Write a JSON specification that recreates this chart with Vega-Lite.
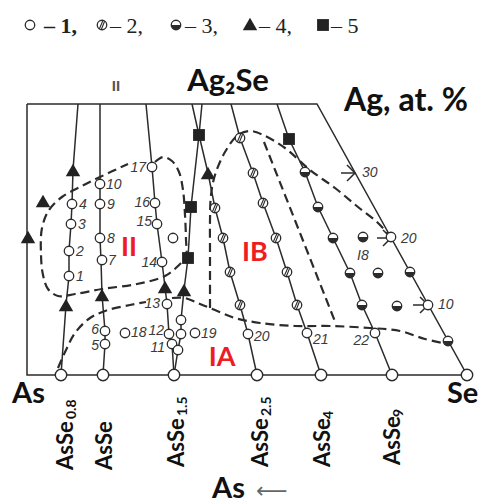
{
  "$schema": "https://vega.github.io/schema/vega-lite/v6.json",
  "width": 481,
  "height": 503,
  "padding": 0,
  "autosize": "none",
  "background": "white",
  "config": {"view": {"stroke": null}},
  "datasets": {
    "solid": [
      {"id":"border","i":0,"x":27,"y":104},{"id":"border","i":1,"x":317,"y":104},{"id":"border","i":2,"x":467,"y":375},{"id":"border","i":3,"x":27,"y":375},{"id":"border","i":4,"x":27,"y":104},
      {"id":"A","i":0,"x":61,"y":375},{"id":"A","i":1,"x":66,"y":305},{"id":"A","i":2,"x":69,"y":276},{"id":"A","i":3,"x":69,"y":251},{"id":"A","i":4,"x":71,"y":224},{"id":"A","i":5,"x":72,"y":204},{"id":"A","i":6,"x":73,"y":170},{"id":"A","i":7,"x":78,"y":104},
      {"id":"B","i":0,"x":103,"y":375},{"id":"B","i":1,"x":105,"y":344},{"id":"B","i":2,"x":105,"y":331},{"id":"B","i":3,"x":102,"y":295},{"id":"B","i":4,"x":101,"y":260},{"id":"B","i":5,"x":100,"y":238},{"id":"B","i":6,"x":100,"y":184},{"id":"B","i":7,"x":100,"y":104},
      {"id":"C","i":0,"x":174,"y":375},{"id":"C","i":1,"x":172,"y":344},{"id":"C","i":2,"x":169,"y":334},{"id":"C","i":3,"x":167,"y":304},{"id":"C","i":4,"x":165,"y":287},{"id":"C","i":5,"x":162,"y":262},{"id":"C","i":6,"x":157,"y":224},{"id":"C","i":7,"x":155,"y":203},{"id":"C","i":8,"x":152,"y":167},{"id":"C","i":9,"x":146,"y":104},
      {"id":"D","i":0,"x":174,"y":375},{"id":"D","i":1,"x":178,"y":350},{"id":"D","i":2,"x":181,"y":334},{"id":"D","i":3,"x":181,"y":320},{"id":"D","i":4,"x":184,"y":290},{"id":"D","i":5,"x":188,"y":258},{"id":"D","i":6,"x":191,"y":207},{"id":"D","i":7,"x":199,"y":135},{"id":"D","i":8,"x":202,"y":104},
      {"id":"E","i":0,"x":257,"y":375},{"id":"E","i":1,"x":248,"y":334},{"id":"E","i":2,"x":240,"y":305},{"id":"E","i":3,"x":230,"y":272},{"id":"E","i":4,"x":223,"y":238},{"id":"E","i":5,"x":215,"y":208},{"id":"E","i":6,"x":208,"y":173},{"id":"E","i":7,"x":199,"y":135},{"id":"E","i":8,"x":192,"y":104},
      {"id":"F","i":0,"x":321,"y":375},{"id":"F","i":1,"x":307,"y":333},{"id":"F","i":2,"x":297,"y":305},{"id":"F","i":3,"x":287,"y":272},{"id":"F","i":4,"x":276,"y":238},{"id":"F","i":5,"x":263,"y":203},{"id":"F","i":6,"x":253,"y":173},{"id":"F","i":7,"x":240,"y":138},{"id":"F","i":8,"x":231,"y":104},
      {"id":"G","i":0,"x":392,"y":375},{"id":"G","i":1,"x":375,"y":333},{"id":"G","i":2,"x":362,"y":305},{"id":"G","i":3,"x":350,"y":273},{"id":"G","i":4,"x":333,"y":238},{"id":"G","i":5,"x":318,"y":207},{"id":"G","i":6,"x":305,"y":172},{"id":"G","i":7,"x":289,"y":139},{"id":"G","i":8,"x":277,"y":104},
      {"id":"t30a","i":0,"x":341,"y":173},{"id":"t30a","i":1,"x":355,"y":173},
      {"id":"t30b","i":0,"x":347,"y":165},{"id":"t30b","i":1,"x":355,"y":173},{"id":"t30b","i":2,"x":347,"y":181},
      {"id":"t20a","i":0,"x":377,"y":238},{"id":"t20a","i":1,"x":391,"y":238},
      {"id":"t20b","i":0,"x":383,"y":230},{"id":"t20b","i":1,"x":391,"y":238},{"id":"t20b","i":2,"x":383,"y":246},
      {"id":"t10a","i":0,"x":413,"y":305},{"id":"t10a","i":1,"x":428,"y":305},
      {"id":"t10b","i":0,"x":420,"y":297},{"id":"t10b","i":1,"x":428,"y":305},{"id":"t10b","i":2,"x":420,"y":313}
    ],
    "dashed": [
      {"id":"II","i":0,"x":155,"y":162},{"id":"II","i":1,"x":163,"y":157},{"id":"II","i":2,"x":172,"y":161},{"id":"II","i":3,"x":179,"y":172},{"id":"II","i":4,"x":183,"y":190},{"id":"II","i":5,"x":185,"y":215},{"id":"II","i":6,"x":186,"y":240},{"id":"II","i":7,"x":186,"y":256},{"id":"II","i":8,"x":178,"y":266},{"id":"II","i":9,"x":165,"y":276},{"id":"II","i":10,"x":137,"y":284},{"id":"II","i":11,"x":102,"y":289},{"id":"II","i":12,"x":75,"y":294},{"id":"II","i":13,"x":58,"y":296},{"id":"II","i":14,"x":48,"y":289},{"id":"II","i":15,"x":43,"y":275},{"id":"II","i":16,"x":41,"y":255},{"id":"II","i":17,"x":42,"y":228},{"id":"II","i":18,"x":49,"y":210},{"id":"II","i":19,"x":62,"y":197},{"id":"II","i":20,"x":80,"y":187},{"id":"II","i":21,"x":100,"y":177},{"id":"II","i":22,"x":128,"y":164},
      {"id":"IAB1","i":0,"x":58,"y":368},{"id":"IAB1","i":1,"x":66,"y":350},{"id":"IAB1","i":2,"x":75,"y":333},{"id":"IAB1","i":3,"x":90,"y":318},{"id":"IAB1","i":4,"x":108,"y":310},{"id":"IAB1","i":5,"x":130,"y":305},{"id":"IAB1","i":6,"x":146,"y":302},
      {"id":"IAB2","i":0,"x":172,"y":298},{"id":"IAB2","i":1,"x":185,"y":298},{"id":"IAB2","i":2,"x":200,"y":304},{"id":"IAB2","i":3,"x":215,"y":310},{"id":"IAB2","i":4,"x":235,"y":318},{"id":"IAB2","i":5,"x":260,"y":323},{"id":"IAB2","i":6,"x":295,"y":326},{"id":"IAB2","i":7,"x":330,"y":326},{"id":"IAB2","i":8,"x":370,"y":328},{"id":"IAB2","i":9,"x":400,"y":331},{"id":"IAB2","i":10,"x":425,"y":339},{"id":"IAB2","i":11,"x":448,"y":344},
      {"id":"dome","i":0,"x":210,"y":308},{"id":"dome","i":1,"x":210,"y":280},{"id":"dome","i":2,"x":210,"y":250},{"id":"dome","i":3,"x":210,"y":220},{"id":"dome","i":4,"x":211,"y":195},{"id":"dome","i":5,"x":215,"y":175},{"id":"dome","i":6,"x":225,"y":152},{"id":"dome","i":7,"x":238,"y":135},{"id":"dome","i":8,"x":250,"y":131},{"id":"dome","i":9,"x":263,"y":135},{"id":"dome","i":10,"x":285,"y":148},{"id":"dome","i":11,"x":310,"y":170},{"id":"dome","i":12,"x":335,"y":188},{"id":"dome","i":13,"x":358,"y":207},{"id":"dome","i":14,"x":377,"y":222},{"id":"dome","i":15,"x":390,"y":236},
      {"id":"tie","i":0,"x":264,"y":142},{"id":"tie","i":1,"x":336,"y":324}
    ],
    "base": [
      {"x":61,"y":375},{"x":103,"y":375},{"x":174,"y":375},{"x":257,"y":375},{"x":321,"y":375},{"x":392,"y":375},{"x":467,"y":375}
    ],
    "points": [
      {"type":"1","x":30,"y":25},{"type":"2","x":102,"y":25},{"type":"3","x":176,"y":25},{"type":"4","x":250,"y":24},{"type":"5","x":323,"y":25},
      {"type":"1","x":69,"y":276},{"type":"1","x":69,"y":251},{"type":"1","x":71,"y":224},{"type":"1","x":72,"y":204},
      {"type":"1","x":100,"y":184},{"type":"1","x":100,"y":204},{"type":"1","x":100,"y":238},{"type":"1","x":102,"y":260},{"type":"1","x":105,"y":331},{"type":"1","x":105,"y":344},
      {"type":"1","x":152,"y":167},{"type":"1","x":155,"y":203},{"type":"1","x":157,"y":224},{"type":"1","x":162,"y":262},{"type":"1","x":167,"y":304},{"type":"1","x":169,"y":334},{"type":"1","x":172,"y":344},
      {"type":"1","x":181,"y":320},{"type":"1","x":181,"y":334},{"type":"1","x":178,"y":350},
      {"type":"1","x":125,"y":333},{"type":"1","x":195,"y":333},{"type":"1","x":173,"y":238},
      {"type":"1","x":248,"y":334},{"type":"1","x":307,"y":333},{"type":"1","x":375,"y":333},
      {"type":"1","x":391,"y":237},{"type":"1","x":428,"y":305},
      {"type":"2","x":215,"y":208},{"type":"2","x":223,"y":238},{"type":"2","x":230,"y":272},{"type":"2","x":240,"y":305},
      {"type":"2","x":240,"y":138},{"type":"2","x":253,"y":173},{"type":"2","x":263,"y":203},{"type":"2","x":276,"y":238},{"type":"2","x":287,"y":272},{"type":"2","x":297,"y":305},
      {"type":"3","x":305,"y":172},{"type":"3","x":318,"y":207},{"type":"3","x":333,"y":238},{"type":"3","x":350,"y":273},{"type":"3","x":362,"y":305},
      {"type":"3","x":363,"y":237},{"type":"3","x":378,"y":273},{"type":"3","x":397,"y":306},{"type":"3","x":410,"y":272},{"type":"3","x":448,"y":341},
      {"type":"4","x":28,"y":237},{"type":"4","x":43,"y":201},{"type":"4","x":73,"y":170},{"type":"4","x":66,"y":305},{"type":"4","x":102,"y":295},{"type":"4","x":165,"y":287},{"type":"4","x":184,"y":290},{"type":"4","x":208,"y":173},
      {"type":"5","x":199,"y":135},{"type":"5","x":191,"y":207},{"type":"5","x":188,"y":258},{"type":"5","x":289,"y":139}
    ],
    "numsLeft": [
      {"t":"1","x":76,"y":277},{"t":"2","x":76,"y":252},{"t":"3","x":78,"y":225},{"t":"4","x":79,"y":205},
      {"t":"10","x":106,"y":185},{"t":"9","x":107,"y":205},{"t":"8","x":107,"y":239},{"t":"7","x":108,"y":261},
      {"t":"18","x":131,"y":333},{"t":"19","x":201,"y":334},{"t":"20","x":254,"y":337},{"t":"21","x":313,"y":340},
      {"t":"I8","x":357,"y":256},{"t":"30","x":362,"y":173},{"t":"20","x":401,"y":239},{"t":"10","x":438,"y":305}
    ],
    "numsRight": [
      {"t":"17","x":146,"y":168},{"t":"16","x":150,"y":203},{"t":"15","x":152,"y":222},{"t":"14","x":157,"y":263},
      {"t":"13","x":160,"y":304},{"t":"12","x":164,"y":331},{"t":"11","x":165,"y":348},
      {"t":"6","x":99,"y":330},{"t":"5","x":99,"y":346},{"t":"22","x":369,"y":341}
    ],
    "phases": [
      {"t":"II","x":129,"y":248},{"t":"IB","x":255,"y":253},{"t":"IA","x":222,"y":358}
    ],
    "formulas": [
      {"t":"AsSe","x":73,"y":470},{"t":"AsSe","x":112,"y":470},{"t":"AsSe","x":184,"y":467},{"t":"AsSe","x":268,"y":467},{"t":"AsSe","x":330,"y":467},{"t":"AsSe","x":400,"y":465}
    ],
    "subs": [
      {"t":"0.8","x":76,"y":419},{"t":"1.5","x":187,"y":416},{"t":"2.5","x":271,"y":416},{"t":"4","x":333,"y":419},{"t":"9","x":403,"y":417}
    ],
    "bigLeft": [
      {"t":"As","x":12,"y":403},{"t":"Se","x":447,"y":403},{"t":"As","x":212,"y":498}
    ],
    "legendText": [
      {"t":"– 2,","x":110,"y":33},{"t":"– 3,","x":185,"y":33},{"t":"– 4,","x":259,"y":33},{"t":"– 5","x":331,"y":33}
    ],
    "legendBold": [{"t":"– 1,","x":44,"y":33}]
  },
  "encoding": {
    "x": {"field":"x","type":"quantitative","scale":{"domain":[0,481],"nice":false,"zero":false},"axis":null},
    "y": {"field":"y","type":"quantitative","scale":{"domain":[0,503],"nice":false,"zero":false,"reverse":true},"axis":null}
  },
  "layer": [
    {"data":{"name":"solid"},"mark":{"type":"line","stroke":"#2b2b2b","strokeWidth":1.5,"interpolate":"linear"},
     "encoding":{"detail":{"field":"id"},"order":{"field":"i","type":"quantitative"}}},
    {"data":{"name":"dashed"},"mark":{"type":"line","stroke":"#2b2b2b","strokeWidth":2.2,"strokeDash":[9,5],"interpolate":"catmull-rom"},
     "encoding":{"detail":{"field":"id"},"order":{"field":"i","type":"quantitative"}}},
    {"data":{"name":"base"},"mark":{"type":"point","shape":"circle","filled":true,"fill":"white","stroke":"#2b2b2b","strokeWidth":1.4,"size":130,"opacity":1}},
    {"data":{"name":"points"},"transform":[{"filter":"datum.type==='1' || datum.type==='2' || datum.type==='3'"}],
     "mark":{"type":"point","shape":"circle","filled":true,"fill":"white","stroke":"#2b2b2b","strokeWidth":1.3,"size":90,"opacity":1}},
    {"data":{"name":"points"},"transform":[{"filter":"datum.type==='2'"}],
     "mark":{"type":"point","shape":"M-0.55,0.8L0.2,-0.95M-0.15,0.95L0.55,-0.8","filled":false,"stroke":"#2b2b2b","strokeWidth":1.1,"size":90,"opacity":1}},
    {"data":{"name":"points"},"transform":[{"filter":"datum.type==='3'"}],
     "mark":{"type":"point","shape":"M-1,0L-0.92,0.38L-0.71,0.71L-0.38,0.92L0,1L0.38,0.92L0.71,0.71L0.92,0.38L1,0Z","filled":true,"fill":"#2b2b2b","strokeWidth":0,"size":90,"opacity":1}},
    {"data":{"name":"points"},"transform":[{"filter":"datum.type==='4'"}],
     "mark":{"type":"point","shape":"triangle-up","filled":true,"fill":"#222","size":210,"opacity":1}},
    {"data":{"name":"points"},"transform":[{"filter":"datum.type==='5'"}],
     "mark":{"type":"point","shape":"square","filled":true,"fill":"#222","size":140,"opacity":1}},
    {"data":{"name":"numsLeft"},"mark":{"type":"text","align":"left","baseline":"middle","font":"Liberation Sans","fontStyle":"italic","fontSize":14,"fill":"#3a3a3a"},
     "encoding":{"text":{"field":"t"}}},
    {"data":{"name":"numsRight"},"mark":{"type":"text","align":"right","baseline":"middle","font":"Liberation Sans","fontStyle":"italic","fontSize":14,"fill":"#3a3a3a"},
     "encoding":{"text":{"field":"t"}}},
    {"data":{"name":"phases"},"mark":{"type":"text","align":"center","baseline":"middle","font":"Lato","fontWeight":"bold","fontSize":27,"fill":"#ee1c25"},
     "encoding":{"text":{"field":"t"}}},
    {"data":{"name":"formulas"},"mark":{"type":"text","align":"left","baseline":"alphabetic","angle":270,"font":"Lato","fontWeight":"bold","fontSize":22,"fill":"#111"},
     "encoding":{"text":{"field":"t"}}},
    {"data":{"name":"subs"},"mark":{"type":"text","align":"left","baseline":"alphabetic","angle":270,"font":"Lato","fontWeight":"bold","fontSize":14,"fill":"#111"},
     "encoding":{"text":{"field":"t"}}},
    {"data":{"name":"bigLeft"},"mark":{"type":"text","align":"left","baseline":"alphabetic","font":"Lato","fontWeight":"bold","fontSize":29,"fill":"#111"},
     "encoding":{"text":{"field":"t"}}},
    {"data":{"values":[{"t":"Ag, at. %","x":344,"y":111}]},"mark":{"type":"text","align":"left","baseline":"alphabetic","font":"Lato","fontWeight":"bold","fontSize":32,"fill":"#111"},
     "encoding":{"text":{"field":"t"}}},
    {"data":{"values":[{"t":"Ag₂Se","x":228,"y":91}]},"mark":{"type":"text","align":"center","baseline":"alphabetic","font":"Lato","fontWeight":"bold","fontSize":31,"fill":"#111"},
     "encoding":{"text":{"field":"t"}}},
    {"data":{"values":[{"t":"II","x":116,"y":86}]},"mark":{"type":"text","align":"center","baseline":"middle","font":"Liberation Sans","fontWeight":"bold","fontSize":15,"fill":"#555"},
     "encoding":{"text":{"field":"t"}}},
    {"data":{"values":[{"t":"⟵","x":256,"y":491}]},"mark":{"type":"text","align":"left","baseline":"middle","font":"DejaVu Sans","fontSize":22,"fill":"#666"},
     "encoding":{"text":{"field":"t"}}},
    {"data":{"name":"legendText"},"mark":{"type":"text","align":"left","baseline":"alphabetic","font":"Liberation Serif","fontSize":22,"fill":"#222"},
     "encoding":{"text":{"field":"t"}}},
    {"data":{"name":"legendBold"},"mark":{"type":"text","align":"left","baseline":"alphabetic","font":"Liberation Serif","fontWeight":"bold","fontSize":22,"fill":"#222"},
     "encoding":{"text":{"field":"t"}}}
  ]
}
